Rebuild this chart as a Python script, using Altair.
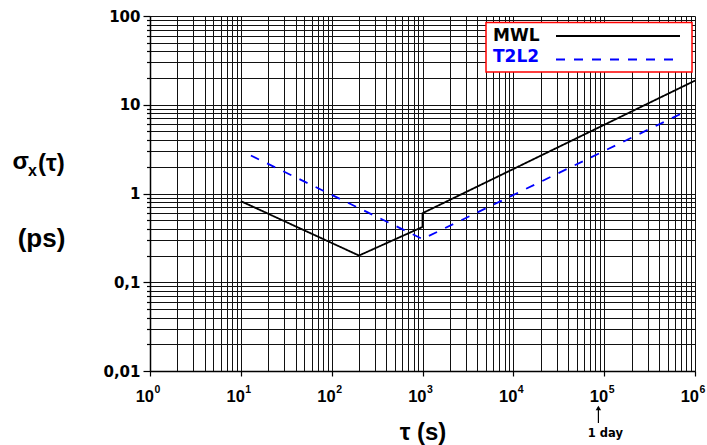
import altair as alt
import pandas as pd

# ---------------- data ----------------
series_names = ["MWL", "T2L2"]
series_colors = ["black", "blue"]

mwl_tau = [10, 200, 1000, 1000, 1e6]
mwl_sigma = [0.82, 0.2, 0.42, 0.6, 18.7]

t2l2_tau = [12.9, 1000, 7.8e5]
t2l2_sigma = [2.68, 0.307, 8.35]

x_decades = [0, 1, 2, 3, 4, 5, 6]
one_day_s = 86400

rows = []
for i, (t, s) in enumerate(zip(mwl_tau, mwl_sigma)):
    rows.append({"series": "MWL", "tau": t, "sigma": s, "order": i})
for i, (t, s) in enumerate(zip(t2l2_tau, t2l2_sigma)):
    rows.append({"series": "T2L2", "tau": t, "sigma": s, "order": i})
lines_df = pd.DataFrame(rows)

x_grid = [round(m * 10.0 ** k, 8) for k in range(0, 6) for m in range(1, 10)] + [1e6]
y_grid = [round(m * 10.0 ** k, 8) for k in range(-2, 2) for m in range(1, 10)] + [100.0]

xlab_df = pd.DataFrame({
    "tau": [10.0 ** k for k in x_decades],
    "base": ["10"] * len(x_decades),
    "exp": [str(k) for k in x_decades],
})

is_major = "abs(log(datum.value)/LN10 - round(log(datum.value)/LN10)) < 0.001"

x_scale = alt.Scale(type="log", domain=[1, 1e6], nice=False)
y_scale = alt.Scale(type="log", domain=[0.01, 100], nice=False)

GRID = "#111111"

x_axis = alt.Axis(
    values=x_grid, labels=False, title=None, grid=True,
    gridColor=GRID, gridWidth=1, gridOpacity=1,
    domainColor="black", domainWidth=1.5,
    tickColor="black", tickWidth=1.2,
    tickSize={"condition": {"test": is_major, "value": 5}, "value": 0},
)
y_axis = alt.Axis(
    values=y_grid, title=None, grid=True,
    gridColor=GRID, gridWidth=1, gridOpacity=1,
    domainColor="black", domainWidth=1.5,
    tickColor="black", tickWidth=1.2,
    tickSize={"condition": {"test": is_major, "value": 7}, "value": 3.5},
    labelExpr="indexof(['100','10','1','0.1','0.01'], format(datum.value, '~g')) >= 0 ? replace(format(datum.value, '~g'), '.', ',') : ''",
    labelFont="DejaVu Sans", labelFontWeight="bold", labelFontSize=15,
    labelColor="black", labelPadding=3, labelOverlap=False, labelFlush=False,
)


def X(field="tau:Q"):
    return alt.X(field, scale=x_scale, axis=x_axis)


lines = alt.Chart(lines_df).mark_line(strokeWidth=1.8, clip=True).encode(
    x=X(),
    y=alt.Y("sigma:Q", scale=y_scale, axis=y_axis),
    color=alt.Color("series:N", scale=alt.Scale(domain=series_names, range=series_colors), legend=None),
    strokeDash=alt.StrokeDash("series:N", scale=alt.Scale(domain=series_names, range=[[1, 0], [9, 9]]), legend=None),
    order=alt.Order("order:Q"),
)

# x tick labels 10^k
xlab_base = alt.Chart(xlab_df).mark_text(
    align="right", baseline="alphabetic", font="Liberation Sans", fontWeight="bold",
    fontSize=16.5, dx=4, color="black"
).encode(x=X(), y=alt.value(385.5), text="base:N")
xlab_exp = alt.Chart(xlab_df).mark_text(
    align="left", baseline="alphabetic", font="Liberation Sans", fontWeight="bold",
    fontSize=10.5, dx=4.5, color="black"
).encode(x=X(), y=alt.value(377), text="exp:N")

# x title
one = pd.DataFrame({"a": [0]})
x_title = alt.Chart(one).mark_text(
    align="center", baseline="alphabetic", font="Liberation Sans", fontWeight="bold",
    fontSize=24, color="black"
).encode(x=alt.value(273), y=alt.value(424), text=alt.value("τ (s)"))

# y title  sigma_x(tau) / (ps)
yt_sigma = alt.Chart(one).mark_text(
    align="left", baseline="alphabetic", font="Liberation Sans", fontWeight="bold",
    fontSize=24, color="black"
).encode(x=alt.value(-137.5), y=alt.value(153), text=alt.value("σ"))
yt_sub = alt.Chart(one).mark_text(
    align="left", baseline="alphabetic", font="Liberation Sans", fontWeight="bold",
    fontSize=16, color="black"
).encode(x=alt.value(-122), y=alt.value(160), text=alt.value("x"))
yt_tau = alt.Chart(one).mark_text(
    align="left", baseline="alphabetic", font="Liberation Sans", fontWeight="bold",
    fontSize=24, color="black"
).encode(x=alt.value(-112), y=alt.value(155), text=alt.value("(τ)"))
yt_ps = alt.Chart(one).mark_text(
    align="center", baseline="alphabetic", font="Liberation Sans", fontWeight="bold",
    fontSize=26, color="black"
).encode(x=alt.value(-108.5), y=alt.value(230.5), text=alt.value("(ps)"))

# 1 day marker
day_df = pd.DataFrame({"tau": [one_day_s], "label": ["1 day"]})
day_rule = alt.Chart(day_df).mark_rule(color="black", strokeWidth=1.2).encode(
    x=X(), y=alt.value(391), y2=alt.value(407))
day_head = alt.Chart(day_df).mark_point(
    shape="triangle-up", filled=True, size=30, color="black", opacity=1
).encode(x=X(), y=alt.value(392))
day_text = alt.Chart(day_df).mark_text(
    align="center", baseline="alphabetic", font="DejaVu Sans", fontWeight="bold",
    fontSize=11.5, dx=7, color="black"
).encode(x=X(), y=alt.value(420.5), text="label:N")

# legend box
leg_box = alt.Chart(one).mark_rect(fill="white", stroke="red", strokeWidth=1.5).encode(
    x=alt.value(336), x2=alt.value(542), y=alt.value(6.5), y2=alt.value(56))
leg_layers = [leg_box]
leg_text_y = [25, 45.5]
leg_line_y = [20, 43.5]
leg_line_x2 = [530, 524]
leg_dash = [[1, 0], [9, 9]]
for name, col, ty, ly, lx2, dash in zip(series_names, series_colors, leg_text_y, leg_line_y, leg_line_x2, leg_dash):
    d = pd.DataFrame({"series": [name]})
    leg_layers.append(alt.Chart(d).mark_text(
        align="left", baseline="alphabetic", font="DejaVu Sans", fontWeight="bold",
        fontSize=17, color=col
    ).encode(x=alt.value(343), y=alt.value(ty), text="series:N"))
    leg_layers.append(alt.Chart(d).mark_rule(color=col, strokeWidth=1.8, strokeDash=dash).encode(
        x=alt.value(406), x2=alt.value(lx2), y=alt.value(ly)))

chart = alt.layer(
    lines, xlab_base, xlab_exp, x_title, yt_sigma, yt_sub, yt_tau, yt_ps,
    day_rule, day_head, day_text, *leg_layers
).properties(
    width=545, height=355,
    padding={"left": 150, "top": 16, "right": 12, "bottom": 74},
    autosize=alt.AutoSizeParams(type="none"),
    background="white",
).configure_view(stroke=None)

chart.save("out.html", embed_options={"renderer": "svg", "actions": False})
